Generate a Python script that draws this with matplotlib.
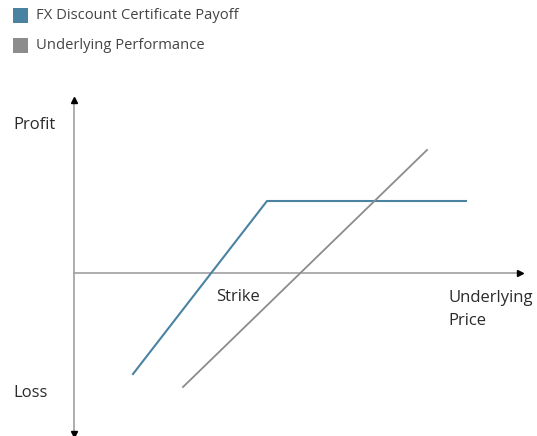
import matplotlib
matplotlib.use("Agg")
import matplotlib.pyplot as plt
from matplotlib.patches import Rectangle

plt.rcParams['font.family'] = ['Open Sans', 'DejaVu Sans']

# Data (arbitrary price / profit units, origin at axes crossing)
blue_x = [5.9, 19.3, 39.2]
blue_y = [-10.1, 7.2, 7.2]
gray_x = [10.9, 35.3]
gray_y = [-11.4, 12.3]
legend_labels = ["FX Discount Certificate Payoff", "Underlying Performance"]
blue_color = "#4a83a2"
gray_color = "#8c8c8c"

fig = plt.figure(figsize=(5.37, 4.36), dpi=100)
ax = fig.add_axes([0, 0, 1, 1])
ax.set_xlim(-7.4, 46.3)
ax.set_ylim(-16.3, 27.3)
ax.axis('off')

# axes lines
axis_c = "#a0a0a0"
ax.plot([0, 0], [-16.0, 17.0], color=axis_c, lw=1.2, zorder=1)
ax.plot([0, 44.3], [0, 0], color=axis_c, lw=1.2, zorder=1)
ax.plot([0], [17.3], marker='^', color='black', ms=4, zorder=3)
ax.plot([0], [-16.1], marker='v', color='black', ms=4, zorder=3)
ax.plot([44.6], [0], marker='>', color='black', ms=4, zorder=3)

ax.plot(blue_x, blue_y, color=blue_color, lw=1.5, zorder=2)
ax.plot(gray_x, gray_y, color=gray_color, lw=1.3, zorder=2)

tc = "#2a2a2a"
fs = 12
ax.text(-6.1, 14.8, "Profit", fontsize=fs, color=tc, ha='left', va='center')
ax.text(-6.1, -12.0, "Loss", fontsize=fs, color=tc, ha='left', va='center')
ax.text(14.2, -2.4, "Strike", fontsize=fs, color=tc, ha='left', va='center')
ax.text(37.4, -1.7, "Underlying\nPrice", fontsize=fs, color=tc, ha='left', va='top',
        linespacing=1.55)

# legend
for i, (lab, c) in enumerate(zip(legend_labels, [blue_color, gray_color])):
    ytop = 8 + 30 * i
    fig.patches.append(Rectangle((13 / 537, 1 - (ytop + 15) / 436), 15 / 537, 15 / 436,
                                 transform=fig.transFigure, facecolor=c, edgecolor='none'))
    fig.text(36 / 537, 1 - (ytop + 7.5) / 436, lab, fontsize=10.6, color="#444444",
             ha='left', va='center')

fig.savefig("out.png", dpi=100)
